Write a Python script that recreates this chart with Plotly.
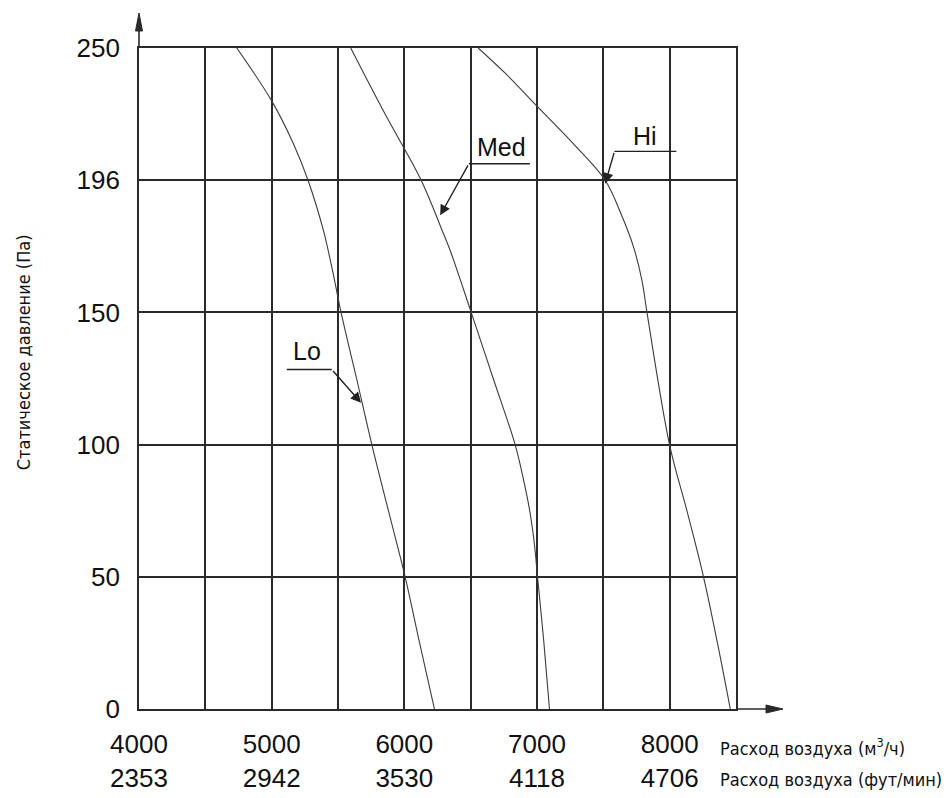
import plotly.graph_objects as go

# Fan curves: static pressure (Pa) vs. airflow (m3/h) at three speeds
pressure_lo = [250, 230, 213.8, 200, 181, 165, 150, 125, 100, 75, 50, 25, 0]
flow_lo = [4737, 5000, 5164, 5274, 5390, 5462, 5523, 5640, 5755, 5880, 6006, 6115, 6227]

pressure_med = [250, 225, 200, 181, 173.5, 150, 125, 100, 87.5, 75, 62.5, 50, 25, 0]
flow_med = [5596, 5855, 6127, 6285, 6345, 6504, 6670, 6835, 6895, 6945, 6980, 7004, 7052, 7094]

pressure_hi = [250, 240, 228, 214, 200, 187.3, 174.7, 162.1, 150, 100, 75, 50, 25, 0]
flow_hi = [6557, 6770, 7000, 7270, 7514, 7633, 7728, 7791, 7829, 7999, 8130, 8255, 8360, 8457]

# Axis ticks (second row: same flows in ft/min)
flow_ticks = [4000, 5000, 6000, 7000, 8000]
flow_ticks_alt = ["2353", "2942", "3530", "4118", "4706"]
pressure_ticks = [0, 50, 100, 150, 200, 250]
pressure_tick_text = ["0", "50", "100", "150", "196", "250"]

GRID = "#2a2a2a"
CURVE = "#3c3c3c"
FONT = "Liberation Sans, Arial, sans-serif"
NARROW = "Liberation Sans Narrow, Arial Narrow, DejaVu Sans Condensed, sans-serif"

fig = go.Figure()
for xs, ys, name in [(flow_lo, pressure_lo, "Lo"),
                     (flow_med, pressure_med, "Med"),
                     (flow_hi, pressure_hi, "Hi")]:
    fig.add_trace(go.Scatter(x=xs, y=ys, mode="lines", name=name,
                             line=dict(color=CURVE, width=1.1, shape="spline", smoothing=1.0),
                             showlegend=False, hoverinfo="x+y"))

# Curve labels with leader lines: (text, text pos, leader start, bend, tip)
leaders = [
    ("Lo", (5266, 135.3), (5114, 128.4), (5453, 128.4), (5674, 115.8)),
    ("Med", (6735, 212.5), (6946, 206.2), (6486, 206.2), (6270, 186.7)),
    ("Hi", (7811, 216.8), (8050, 210.9), (7584, 210.9), (7514, 198.7)),
]
annotations = []
shapes = []
for text, tpos, start, bend, tip in leaders:
    annotations.append(dict(x=tpos[0], y=tpos[1], xref="x", yref="y", text=text,
                            showarrow=False, font=dict(family=FONT, size=25, color="#111")))
    annotations.append(dict(x=tip[0], y=tip[1], xref="x", yref="y", text="",
                            showarrow=True, ax=bend[0], ay=bend[1], axref="x", ayref="y",
                            arrowhead=2, arrowsize=1.5, arrowwidth=1.4, arrowcolor="#222"))
    shapes.append(dict(type="line", xref="x", yref="y", x0=start[0], y0=start[1],
                       x1=bend[0], y1=bend[1], line=dict(color="#222", width=1.4)))

# Axis arrows extending past the plot frame
shapes += [
    dict(type="line", xref="paper", yref="paper", xsizemode="pixel", ysizemode="pixel",
         xanchor=0, yanchor=1, x0=0, x1=0, y0=0, y1=20, line=dict(color=GRID, width=1.6)),
    dict(type="path", xref="paper", yref="paper", xsizemode="pixel", ysizemode="pixel",
         xanchor=0, yanchor=1, path="M -3.5,17 L 3.5,17 L 0,35 Z",
         fillcolor=GRID, line=dict(color=GRID, width=1)),
    dict(type="line", xref="paper", yref="paper", xsizemode="pixel", ysizemode="pixel",
         xanchor=1, yanchor=0, x0=0, x1=34, y0=0, y1=0, line=dict(color=GRID, width=1.6)),
    dict(type="path", xref="paper", yref="paper", xsizemode="pixel", ysizemode="pixel",
         xanchor=1, yanchor=0, path="M 30,-4 L 30,4 L 47,0 Z",
         fillcolor=GRID, line=dict(color=GRID, width=1)),
]

# Axis titles
annotations += [
    dict(x=-0.194, y=0.54, xref="paper", yref="paper", text="Статическое давление (Па)",
         textangle=-90, showarrow=False, xanchor="center", yanchor="middle",
         font=dict(family=NARROW, size=18, color="#111")),
    dict(x=0.9698, y=-0.0575, xref="paper", yref="paper", text="Расход воздуха (м<sup>3</sup>/ч)",
         showarrow=False, xanchor="left", yanchor="middle",
         font=dict(family=NARROW, size=18, color="#111")),
    dict(x=0.9698, y=-0.107, xref="paper", yref="paper", text="Расход воздуха (фут/мин)",
         showarrow=False, xanchor="left", yanchor="middle",
         font=dict(family=NARROW, size=18, color="#111")),
]

fig.update_layout(
    width=949, height=798,
    margin=dict(l=139, r=213, t=48, b=89),
    paper_bgcolor="white", plot_bgcolor="white",
    shapes=shapes, annotations=annotations,
    xaxis=dict(range=[4000, 8500], tickvals=flow_ticks,
               ticktext=[f"{a}<br>{b}" for a, b in zip(flow_ticks, flow_ticks_alt)],
               showgrid=True, gridcolor=GRID, gridwidth=1.6,
               minor=dict(tick0=4000, dtick=500, showgrid=True, gridcolor=GRID, gridwidth=1.6),
               showline=True, linecolor=GRID, linewidth=1.6, mirror=True,
               zeroline=False, ticks="", ticklabelstandoff=11, automargin=False,
               tickfont=dict(family=FONT, size=26, color="#111")),
    yaxis=dict(range=[0, 250], tickvals=pressure_ticks, ticktext=pressure_tick_text,
               showgrid=True, gridcolor=GRID, gridwidth=1.6,
               showline=True, linecolor=GRID, linewidth=1.6, mirror=True,
               zeroline=False, ticks="", ticklabelstandoff=12, automargin=False,
               tickfont=dict(family=FONT, size=26, color="#111")),
)

fig.write_html("out.html")
